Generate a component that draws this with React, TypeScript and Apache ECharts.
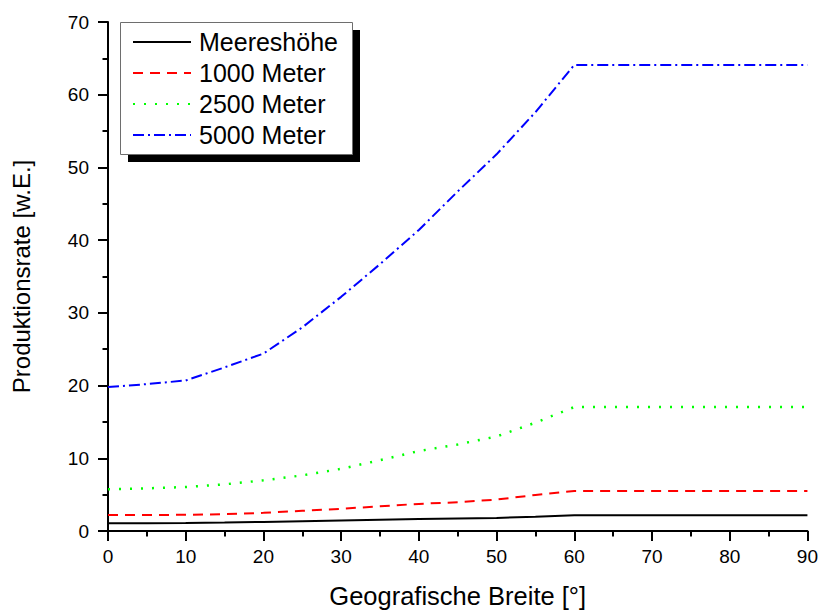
import React, { useEffect, useRef } from "react";
import * as echarts from "echarts";

const latitude = [0, 5, 10, 15, 20, 25, 30, 35, 40, 45, 50, 55, 60, 90];
const meereshoehe = [1.05, 1.07, 1.1, 1.17, 1.25, 1.35, 1.45, 1.55, 1.65, 1.73, 1.8, 1.97, 2.15, 2.15];
const meter1000 = [2.19, 2.2, 2.23, 2.32, 2.5, 2.78, 3.05, 3.4, 3.73, 3.96, 4.32, 4.96, 5.5, 5.5];
const meter2500 = [5.74, 5.87, 6.05, 6.42, 6.97, 7.65, 8.55, 9.74, 11.0, 11.9, 13.0, 14.9, 17.05, 17.05];
const meter5000 = [19.8, 20.2, 20.7, 22.5, 24.4, 28.0, 32.2, 36.7, 41.4, 46.7, 51.8, 57.6, 64.1, 64.1];
const seriesNames = ["Meereshöhe", "1000 Meter", "2500 Meter", "5000 Meter"];
const xTitle = "Geografische Breite [°]";
const yTitle = "Produktionsrate [w.E.]";

const FONT = "'Liberation Sans', Arial, sans-serif";

export default function App() {
  const ref = useRef<HTMLDivElement>(null);
  useEffect(() => {
    if (!ref.current) return;
    const chart = echarts.init(ref.current, undefined, { renderer: "svg" });
    const pairs = (ys: number[]) => latitude.map((x, i) => [x, ys[i]]);
    const styles = [
      { color: "#000000", type: "solid" as any, width: 2 },
      { color: "#ff0000", type: [10, 7] as any, width: 2 },
      { color: "#00ff00", type: [2, 9] as any, width: 2.5 },
      { color: "#0000ff", type: [11, 4, 2, 4] as any, width: 2 },
    ];
    const datasets = [meereshoehe, meter1000, meter2500, meter5000];
    const axisCommon = {
      axisLine: { show: true, onZero: false, lineStyle: { color: "#000", width: 2 } },
      axisTick: { show: true, inside: false, length: 10, lineStyle: { color: "#000", width: 2 } },
      minorTick: { show: true, splitNumber: 2, length: 5.5, lineStyle: { color: "#000", width: 2 } },
      splitLine: { show: false },
      minorSplitLine: { show: false },
    };
    chart.setOption({
      animation: false,
      backgroundColor: "#ffffff",
      grid: { left: 108, right: 13, top: 22, bottom: 79, containLabel: false },
      xAxis: {
        type: "value",
        min: 0,
        max: 90,
        interval: 10,
        ...axisCommon,
        axisLabel: { fontSize: 19, fontFamily: FONT, color: "#000", margin: 16 },
        name: xTitle,
        nameLocation: "middle",
        nameGap: 52,
        nameTextStyle: { fontSize: 25.5, fontFamily: FONT, color: "#000" },
      },
      yAxis: {
        type: "value",
        min: 0,
        max: 70,
        interval: 10,
        ...axisCommon,
        axisLabel: { fontSize: 19, fontFamily: FONT, color: "#000", margin: 19 },
        name: yTitle,
        nameLocation: "middle",
        nameRotate: 90,
        nameGap: 75,
        nameTextStyle: { fontSize: 24, fontFamily: FONT, color: "#000" },
      },
      legend: {
        orient: "vertical",
        left: 120,
        top: 22,
        padding: [6, 12, 6, 12],
        itemWidth: 58,
        itemHeight: 14,
        itemGap: 3,
        z: 5,
        data: seriesNames,
        itemStyle: { color: "rgba(0,0,0,0)", borderWidth: 0, opacity: 0 },
        textStyle: { fontSize: 25, lineHeight: 28, fontFamily: FONT, color: "#000", padding: [0, 0, 0, 3] },
      },
      graphic: [
        { type: "rect", z: 1, shape: { x: 128, y: 30, width: 232, height: 132 }, style: { fill: "#000" } },
        { type: "rect", z: 2, shape: { x: 120.5, y: 22.5, width: 232, height: 132 }, style: { fill: "#fff", stroke: "#6e6e6e", lineWidth: 1 } },
      ],
      series: seriesNames.map((name, i) => ({
        name,
        type: "line",
        data: pairs(datasets[i]),
        showSymbol: false,
        symbol: "none",
        smooth: false,
        z: 3,
        lineStyle: styles[i],
        itemStyle: { color: styles[i].color },
      })),
    });
    return () => chart.dispose();
  }, []);
  return <div ref={ref} style={{ position: "fixed", left: 0, top: 0, width: 821, height: 614 }} />;
}
